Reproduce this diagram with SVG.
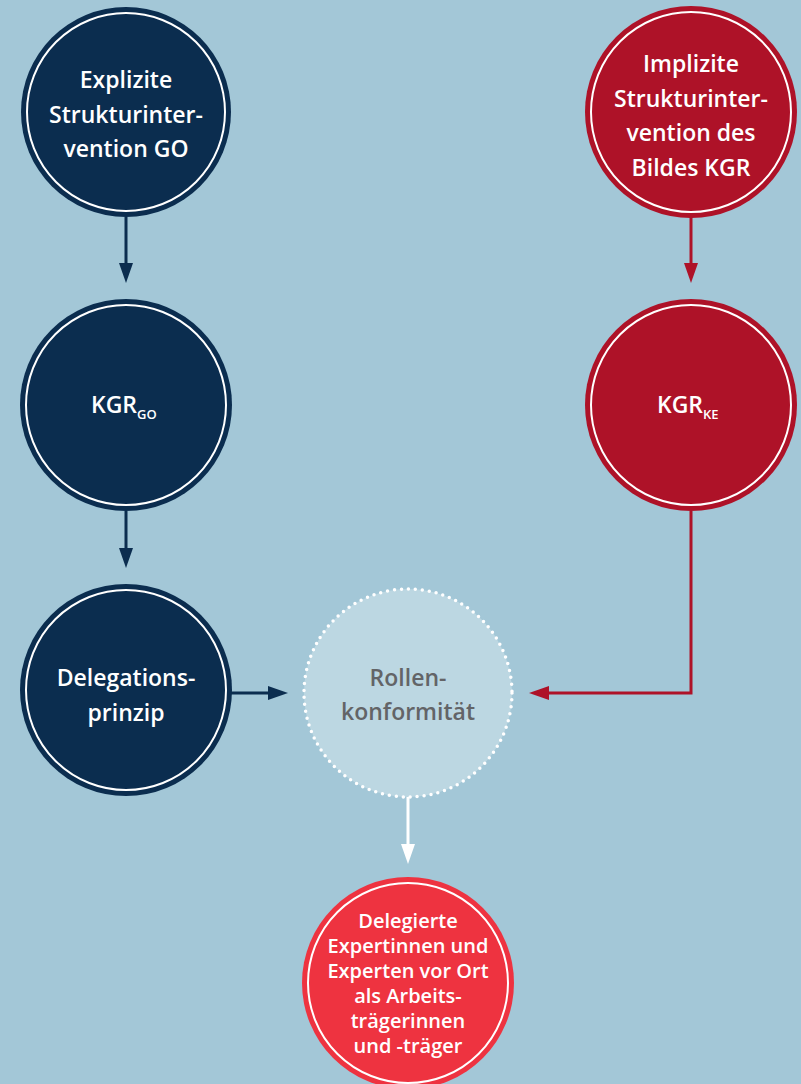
<svg xmlns="http://www.w3.org/2000/svg" width="801" height="1084" viewBox="0 0 801 1084">
<style>
.navy{fill:#0b2d4f}
.dred{fill:#ae1228}
.bred{fill:#ee3340}
.ring{fill:none;stroke:#ffffff;stroke-width:2}
.t{font-family:"Open Sans","Liberation Sans",sans-serif;font-weight:600;font-size:23px;fill:#ffffff;text-anchor:middle}
.t2{font-family:"Open Sans","Liberation Sans",sans-serif;font-weight:600;font-size:20px;fill:#ffffff;text-anchor:middle}
.sub{font-size:13px}
.gray{fill:#636467}
</style>
<rect width="801" height="1084" fill="#a3c7d7"/>
<g id="connectors">
<line x1="126" y1="217" x2="126" y2="264" stroke="#0b2d4f" stroke-width="3"/>
<polygon points="119,263 133,263 126,283" fill="#0b2d4f"/>
<line x1="126" y1="511" x2="126" y2="549" stroke="#0b2d4f" stroke-width="3"/>
<polygon points="119,548 133,548 126,568" fill="#0b2d4f"/>
<line x1="231" y1="693" x2="269" y2="693" stroke="#0b2d4f" stroke-width="3"/>
<polygon points="268,686 268,700 288,693" fill="#0b2d4f"/>
<line x1="691" y1="217" x2="691" y2="264" stroke="#ae1228" stroke-width="3"/>
<polygon points="684,263 698,263 691,283" fill="#ae1228"/>
<polyline points="691,511 691,693 548,693" fill="none" stroke="#ae1228" stroke-width="3"/>
<polygon points="549,686 549,700 529,693" fill="#ae1228"/>
<line x1="408" y1="797" x2="408" y2="845" stroke="#ffffff" stroke-width="3"/>
<polygon points="401,844 415,844 408,864" fill="#ffffff"/>
</g>
<g id="n1">
<circle cx="126" cy="112" r="105" class="navy"/>
<circle cx="126" cy="112" r="99" class="ring"/>
<text class="t" x="126" y="88">Explizite</text>
<text class="t" x="126" y="123">Strukturinter-</text>
<text class="t" x="126" y="157">vention GO</text>
</g>
<g id="n2">
<circle cx="126" cy="405" r="106" class="navy"/>
<circle cx="126" cy="405" r="100" class="ring"/>
<text class="t" x="91" y="413" style="text-anchor:start">KGR<tspan class="sub" dy="6">GO</tspan></text>
</g>
<g id="n3">
<circle cx="126" cy="690" r="106" class="navy"/>
<circle cx="126" cy="690" r="100" class="ring"/>
<text class="t" x="126" y="686">Delegations-</text>
<text class="t" x="126" y="721">prinzip</text>
</g>
<g id="n4">
<circle cx="691" cy="112" r="106" class="dred"/>
<circle cx="691" cy="112" r="100" class="ring"/>
<text class="t" x="691" y="72">Implizite</text>
<text class="t" x="691" y="107">Strukturinter-</text>
<text class="t" x="691" y="141">vention des</text>
<text class="t" x="691" y="176">Bildes KGR</text>
</g>
<g id="n5">
<circle cx="691" cy="405" r="106" class="dred"/>
<circle cx="691" cy="405" r="100" class="ring"/>
<text class="t" x="657" y="413" style="text-anchor:start">KGR<tspan class="sub" dy="6">KE</tspan></text>
</g>
<g id="n6">
<circle cx="408" cy="693" r="104" fill="#bcd7e2" stroke="#ffffff" stroke-width="3.5" stroke-dasharray="0 7" stroke-linecap="round"/>
<text class="t gray" x="408" y="686">Rollen-</text>
<text class="t gray" x="408" y="720">konformität</text>
</g>
<g id="n7">
<circle cx="408" cy="983" r="106" class="bred"/>
<circle cx="408" cy="983" r="100" class="ring"/>
<text class="t2" x="408" y="928">Delegierte</text>
<text class="t2" x="408" y="953">Expertinnen und</text>
<text class="t2" x="408" y="978">Experten vor Ort</text>
<text class="t2" x="408" y="1003">als Arbeits-</text>
<text class="t2" x="408" y="1028">trägerinnen</text>
<text class="t2" x="408" y="1053">und -träger</text>
</g>
</svg>
